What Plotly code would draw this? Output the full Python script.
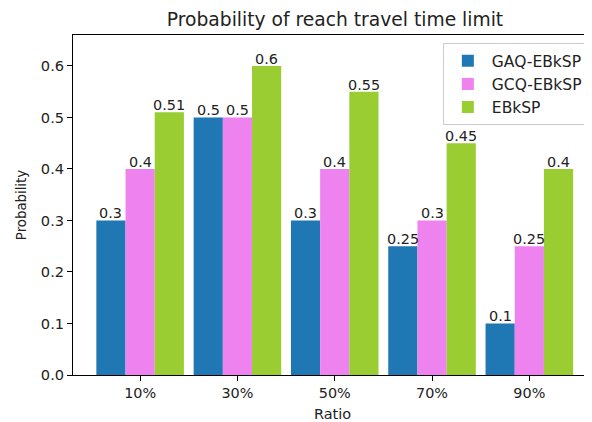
import plotly.graph_objects as go

categories = ["10%", "30%", "50%", "70%", "90%"]
gaq = [0.3, 0.5, 0.3, 0.25, 0.1]
gcq = [0.4, 0.5, 0.4, 0.3, 0.25]
ebksp = [0.51, 0.6, 0.55, 0.45, 0.4]
series_names = ["GAQ-EBkSP", "GCQ-EBkSP", "EBkSP"]
colors = ["#1f77b4", "#ee82ee", "#9acd32"]
yticks = [0.0, 0.1, 0.2, 0.3, 0.4, 0.5, 0.6]

font = "DejaVu Sans"
txt = "#222222"
x = list(range(len(categories)))
bar_w = 0.3
offsets = [-bar_w, 0.0, bar_w]

W, H = 584, 414  # page body adds 8px margin

fig = go.Figure()
annotations = []
for name, vals, col, off in zip(series_names, [gaq, gcq, ebksp], colors, offsets):
    fig.add_trace(go.Bar(
        x=x, y=vals, name=name, marker=dict(color=col, line=dict(width=0)),
    ))
    for xi, v in zip(x, vals):
        annotations.append(dict(
            x=xi + off, y=v, xref="x", yref="y", text=str(v), showarrow=False,
            xanchor="center", yanchor="bottom", yshift=-3,
            font=dict(family=font, size=14.4, color=txt),
        ))

fig.update_layout(
    width=W, height=H,
    margin=dict(l=65, r=0, t=27, b=47),
    paper_bgcolor="white", plot_bgcolor="white",
    barmode="group", bargap=0.1, bargroupgap=0,
    font=dict(family=font, size=14.4, color=txt),
    title=dict(text="Probability of reach travel time limit", x=(327 / W), xanchor="center",
               y=1 - 11 / H, yanchor="middle", font=dict(size=18.7, family=font, color=txt)),
    annotations=annotations,
    showlegend=True,
    legend=dict(x=0.992, y=0.976, xanchor="right", yanchor="top",
                bordercolor="#cccccc", borderwidth=1, bgcolor="rgba(255,255,255,0.8)",
                font=dict(size=15.5, family=font, color=txt),
                itemwidth=38),
    xaxis=dict(range=[-0.69, 4.644], tickvals=x, ticktext=categories,
               showline=True, linecolor="black", linewidth=1, mirror=True,
               ticks="outside", ticklen=5, tickcolor="black", showgrid=False,
               zeroline=False, tickfont=dict(size=14.4),
               title=dict(text="Ratio", font=dict(size=14.5), standoff=10)),
    yaxis=dict(range=[0, 0.66], tickvals=yticks, tickformat=".1f",
               showline=True, linecolor="black", linewidth=1,
               ticks="outside", ticklen=5, tickcolor="black", showgrid=False,
               zeroline=False, tickfont=dict(size=14.6),
               title=dict(text="Probability", font=dict(size=13.3), standoff=11)),
)

fig.write_html("out.html")
